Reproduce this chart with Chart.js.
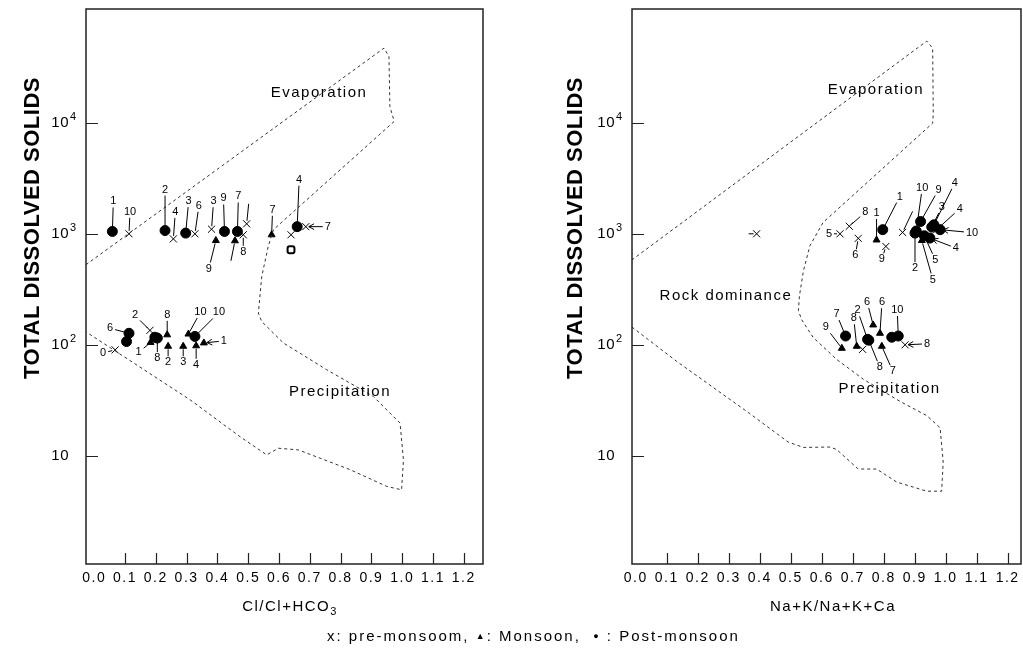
<!DOCTYPE html>
<html>
<head>
<meta charset="utf-8">
<script src="https://cdn.jsdelivr.net/npm/chart.js@4.4.1/dist/chart.umd.min.js"></script>
<style>
  body { margin: 0; background: #fff; width: 1023px; height: 649px; overflow: hidden; position: relative; font-family: Arial, "Liberation Sans", sans-serif; }
  #left { position: absolute; left: 0; top: 0; }
  #right { position: absolute; left: 540px; top: 0; }
  #legendLine { position: absolute; left: 327px; top: 627px; font-size: 15px; letter-spacing: 2px; white-space: nowrap; }
  #legendLine .m { font-size: 9px; vertical-align: 2px; }
</style>
</head>
<body>
<canvas id="left" width="500" height="649"></canvas>
<canvas id="right" width="500" height="649"></canvas>
<div id="legendLine">x: pre-monsoom, <span class="m">&#9650;</span>: Monsoon, &nbsp;<span class="m">&#9679;</span> : Post-monsoon</div>
<script>
// axis ticks
const xTickValues = [0, 0.1, 0.2, 0.3, 0.4, 0.5, 0.6, 0.7, 0.8, 0.9, 1.0, 1.1, 1.2];
const yTickValues = [10, 100, 1000, 10000];
const yTickPower = { 10: '', 100: '2', 1000: '3', 10000: '4' };

// ---- left panel : Cl/(Cl+HCO3) vs TDS ----
const leftBoundary = [
  [-0.027, 526], [0.941, 47100], [0.957, 39500], [0.960, 14000], [0.974, 10300],
  [0.582, 1090], [0.565, 769], [0.544, 413], [0.533, 193], [0.544, 162],
  [0.614, 104], [0.755, 59.6], [0.906, 34.3], [0.993, 19.7], [1.004, 9.2],
  [0.998, 4.94], [0.950, 5.3], [0.831, 7.5], [0.663, 11.3], [0.598, 11.7],
  [0.560, 10.2], [0.473, 14.9], [0.311, 32], [-0.027, 131]
];
const leftPre = [[0.113, 1000], [0.257, 900], [0.327, 1000], [0.381, 1100], [0.495, 1230], [0.484, 980],
  [0.687, 1160], [0.639, 980], [0.068, 90], [0.181, 135]];
const leftMon = [[0.395, 870], [0.457, 865], [0.576, 980], [0.183, 105], [0.237, 123], [0.240, 97],
  [0.289, 97], [0.306, 125], [0.331, 98], [0.356, 104]];
const leftPost = [[0.059, 1050], [0.230, 1070], [0.297, 1015], [0.423, 1050], [0.465, 1050], [0.659, 1160],
  [0.113, 127], [0.105, 107], [0.197, 117], [0.205, 115], [0.327, 119]];
const leftOpen = [[0.639, 718]];
const leftPreNames = ['10', '4', '6', '3', '', '8', '7', null, '0', '2'];
const leftMonNames = ['9', '', '7', '1', '8', '2', '3', '10', '4', '1'];
const leftPostNames = ['1', '2', '3', '9', '7', '4', '6', null, null, '8', '10'];
const leftRegions = [['Evaporation', 0.730, 18600], ['Precipitation', 0.798, 37.8]];

// ---- right panel : (Na+K)/(Na+K+Ca) vs TDS ----
const rightBoundary = [
  [-0.013, 580], [0.939, 54500], [0.958, 47000], [0.960, 12000], [0.958, 9930],
  [0.605, 1270], [0.562, 781], [0.541, 463], [0.528, 274], [0.525, 203], [0.535, 169],
  [0.573, 116], [0.648, 74], [0.734, 49], [0.852, 31], [0.939, 23], [0.982, 17.9],
  [0.992, 8.8], [0.987, 4.8], [0.939, 4.8], [0.842, 5.8], [0.777, 7.6], [0.718, 7.6],
  [0.648, 11.4], [0.627, 12], [0.541, 11.9], [0.492, 13.3], [0.368, 24], [0.132, 71], [-0.013, 145]
];
const rightPre = [[0.390, 1000], [0.659, 1000], [0.689, 1170], [0.718, 910], [0.807, 770], [0.861, 1030],
  [0.971, 1090], [0.732, 91], [0.869, 100]];
const rightMon = [[0.777, 880], [0.923, 870], [0.665, 93], [0.713, 97], [0.766, 151], [0.788, 127], [0.794, 97]];
const rightPost = [[0.797, 1090], [0.901, 1015], [0.905, 1060], [0.919, 1290], [0.962, 1205], [0.955, 1150],
  [0.982, 1090], [0.931, 960], [0.949, 915], [0.677, 120], [0.748, 112], [0.752, 110], [0.826, 117], [0.847, 120]];
const rightPreNames = ['', '5', '8', '6', '9', '', '4', null, '8'];
const rightMonNames = ['1', '5', '9', '8', '6', '6', '7'];
const rightPostNames = ['1', '2', '10', '9', '4', '3', '10', '5', '4', '7', '2', '8', null, '10'];
const rightRegions = [['Evaporation', 0.775, 19800], ['Rock dominance', 0.291, 276], ['Precipitation', 0.819, 40.2]];

// where each sample number sits relative to its marker (px), and whether the leader is an arrow
const leftPreOffsets = [[1, -22], [2, -27], [4, -28], [2, -28], [2, -20], [0, 17], [22, 0, true], null, [-12, 3], [-15, -15]];
const leftMonOffsets = [[-7, 28], [-4, 20], [1, -25], [-12, 10], [0, -20], [0, 16], [0, 16], [12, -22], [0, 19], [20, -2, true]];
const leftPostOffsets = [[1, -30], [0, -41], [3, -32], [-1, -33], [1, -35], [2, -47], [-19, -5], null, null, [0, 20], [24, -24]];
const rightPreOffsets = [[-8, 0], [-11, 0], [16, -14], [-3, 17], [-4, 13], [10, -21], [23, -21], null, [22, -1, true]];
const rightMonOffsets = [[0, -27], [11, 39], [-16, -21], [-3, -28], [-6, -23], [2, -31], [11, 25]];
const rightPostOffsets = [[17, -33], [0, 35], [6, -43], [18, -32], [21, -42], [10, -20], [32, 3, true], [11, 24],
  [26, 10, true], [-9, -22], [-10, -29], [11, 27], null, [-1, -26]];

const FONT = 'Arial, "Liberation Sans", sans-serif';
const panelInfo = {};

function tagsOf(names, offsets) {
  return names.map((n, i) => (n === null || !offsets[i]) ? null : [n, offsets[i][0], offsets[i][1], offsets[i][2]]);
}

const decor = {
  id: 'decor',
  beforeDraw(chart) {
    chart.ctx.letterSpacing = '1.5px';
  },
  afterDatasetsDraw(chart) {
    const info = panelInfo[chart.canvas.id];
    const { ctx, chartArea: a, scales: { x, y } } = chart;
    ctx.save();
    ctx.strokeStyle = '#222';
    ctx.fillStyle = '#000';
    ctx.lineWidth = 1.5;
    ctx.setLineDash([]);
    ctx.strokeRect(a.left, a.top, a.right - a.left, a.bottom - a.top);

    // inward tick marks
    ctx.lineWidth = 1.2;
    ctx.beginPath();
    xTickValues.forEach(v => {
      if (v <= 0) return;
      const px = Math.round(x.getPixelForValue(v)) + 0.5;
      ctx.moveTo(px, a.bottom);
      ctx.lineTo(px, a.bottom - 11);
    });
    yTickValues.forEach(v => {
      const py = Math.round(y.getPixelForValue(v)) + 0.5;
      ctx.moveTo(a.left, py);
      ctx.lineTo(a.left + 12, py);
    });
    ctx.stroke();

    // y tick labels: 10 with a raised power
    ctx.letterSpacing = '0.5px';
    ctx.textBaseline = 'middle';
    yTickValues.forEach(v => {
      const py = y.getPixelForValue(v);
      const bx = a.left - 17;
      ctx.font = '15px ' + FONT;
      ctx.textAlign = 'right';
      ctx.fillText('10', bx, py);
      if (yTickPower[v]) {
        ctx.font = '11px ' + FONT;
        ctx.textAlign = 'left';
        ctx.fillText(yTickPower[v], bx + 1, py - 6);
      }
    });

    // sample numbers with leader lines
    ctx.font = '11px ' + FONT;
    ctx.letterSpacing = '0px';
    ctx.textAlign = 'center';
    ctx.textBaseline = 'middle';
    ctx.strokeStyle = '#000';
    ctx.lineWidth = 1;
    info.tags.forEach((tags, di) => {
      if (!tags) return;
      chart.getDatasetMeta(di).data.forEach((el, i) => {
        const t = tags[i];
        if (!t) return;
        const [text, dx, dy, arrow] = t;
        const lx = el.x + dx, ly = el.y + dy;
        const len = Math.hypot(dx, dy);
        const ux = dx / len, uy = dy / len;
        const sx = el.x + ux * 3, sy = el.y + uy * 3;
        let ex = lx, ey = ly;
        if (text) {
          const hw = ctx.measureText(text).width / 2 + 2, hh = 6;
          const d = Math.min(ux ? hw / Math.abs(ux) : Infinity, uy ? hh / Math.abs(uy) : Infinity);
          ex = lx - ux * d;
          ey = ly - uy * d;
          ctx.fillText(text, lx, ly);
        }
        ctx.beginPath();
        ctx.moveTo(sx, sy);
        ctx.lineTo(ex, ey);
        if (arrow) {
          const ang = Math.atan2(uy, ux);
          ctx.moveTo(sx + Math.cos(ang + 0.5) * 6, sy + Math.sin(ang + 0.5) * 6);
          ctx.lineTo(sx, sy);
          ctx.lineTo(sx + Math.cos(ang - 0.5) * 6, sy + Math.sin(ang - 0.5) * 6);
        }
        ctx.stroke();
      });
    });

    // region names
    ctx.font = '15px ' + FONT;
    ctx.letterSpacing = '1.5px';
    info.regions.forEach(([text, xv, yv]) => {
      ctx.fillText(text, x.getPixelForValue(xv), y.getPixelForValue(yv));
    });

    // x title with subscript part
    ctx.textAlign = 'left';
    ctx.font = '15px ' + FONT;
    const w1 = ctx.measureText(info.xTitle).width;
    ctx.font = '11px ' + FONT;
    const w2 = info.xSub ? ctx.measureText(info.xSub).width : 0;
    const x0 = info.xTitleX - (w1 + w2) / 2;
    ctx.font = '15px ' + FONT;
    ctx.fillText(info.xTitle, x0, 607);
    if (info.xSub) {
      ctx.font = '11px ' + FONT;
      ctx.fillText(info.xSub, x0 + w1, 612);
    }

    // y title
    ctx.textAlign = 'center';
    ctx.font = 'bold 22px ' + FONT;
    ctx.letterSpacing = '0.5px';
    ctx.translate(info.yTitleX, 228);
    ctx.rotate(-Math.PI / 2);
    ctx.fillText('TOTAL DISSOLVED SOLIDS', 0, 0);
    ctx.restore();
  }
};

function makePanel(id, p) {
  const pts = arr => arr.map(([x, y]) => ({ x, y }));
  const datasets = [
    { data: pts(p.boundary), showLine: true, borderColor: '#333', borderWidth: 1, borderDash: [3, 3], pointRadius: 0 },
    { data: pts(p.pre), pointStyle: 'crossRot', pointRadius: 5, borderColor: '#000', borderWidth: 1 },
    { data: pts(p.mon), pointStyle: 'triangle', pointRadius: 4, backgroundColor: '#000', borderColor: '#000', borderWidth: 1 },
    { data: pts(p.post), pointStyle: 'circle', pointRadius: 5, backgroundColor: '#000', borderColor: '#000', borderWidth: 1 }
  ];
  if (p.open) {
    datasets.push({ data: pts(p.open), pointStyle: 'rectRounded', pointRadius: 4, backgroundColor: '#fff', borderColor: '#000', borderWidth: 2 });
  }
  panelInfo[id] = {
    tags: [null, p.preTags, p.monTags, p.postTags, null],
    regions: p.regions,
    xTitle: p.xTitle, xSub: p.xSub, xTitleX: p.xTitleX, yTitleX: p.yTitleX
  };
  return new Chart(document.getElementById(id), {
    type: 'scatter',
    data: { datasets },
    plugins: [decor],
    options: {
      animation: false,
      responsive: false,
      events: [],
      layout: { padding: { top: 9, right: p.padRight, bottom: 0, left: 0 } },
      plugins: { legend: { display: false }, tooltip: { enabled: false } },
      scales: {
        x: {
          type: 'linear', min: p.xmin, max: p.xmax,
          grid: { display: false, drawTicks: false },
          border: { display: false },
          afterBuildTicks: s => { s.ticks = xTickValues.map(v => ({ value: v })); },
          afterFit: s => { s.height = 85; },
          ticks: {
            autoSkip: false, maxRotation: 0, minRotation: 0, padding: 6, color: '#000',
            font: { family: FONT, size: 14 },
            callback: v => v.toFixed(1)
          }
        },
        y: {
          type: 'logarithmic', min: 1.06, max: 106000,
          grid: { display: false, drawTicks: false },
          border: { display: false },
          afterBuildTicks: s => { s.ticks = yTickValues.map(v => ({ value: v })); },
          afterFit: s => { s.width = p.yWidth; },
          ticks: { display: false }
        }
      }
    }
  });
}

makePanel('left', {
  boundary: leftBoundary, pre: leftPre, mon: leftMon, post: leftPost, open: leftOpen,
  preTags: tagsOf(leftPreNames, leftPreOffsets),
  monTags: tagsOf(leftMonNames, leftMonOffsets),
  postTags: tagsOf(leftPostNames, leftPostOffsets),
  regions: leftRegions,
  xmin: -0.0266, xmax: 1.2623, yWidth: 86, padRight: 17,
  xTitle: 'Cl/Cl+HCO', xSub: '3', xTitleX: 290, yTitleX: 33
});

makePanel('right', {
  boundary: rightBoundary, pre: rightPre, mon: rightMon, post: rightPost,
  preTags: tagsOf(rightPreNames, rightPreOffsets),
  monTags: tagsOf(rightMonNames, rightMonOffsets),
  postTags: tagsOf(rightPostNames, rightPostOffsets),
  regions: rightRegions,
  xmin: -0.012, xmax: 1.243, yWidth: 92, padRight: 19,
  xTitle: 'Na+K/Na+K+Ca', xSub: '', xTitleX: 293, yTitleX: 36
});
</script>
</body>
</html>
